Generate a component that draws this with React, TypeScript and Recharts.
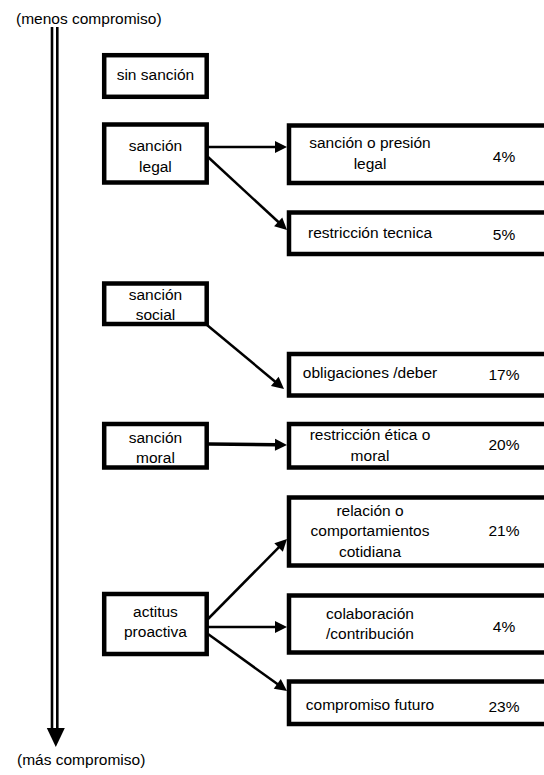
import {
  ReferenceArea,
  ReferenceDot,
  ReferenceLine,
  Scatter,
  ScatterChart,
  XAxis,
  YAxis,
} from "recharts";

// Diagram content
const SANCTIONS = [
  "sin sanción",
  "sanción\nlegal",
  "sanción\nsocial",
  "sanción\nmoral",
  "actitus\nproactiva",
];
const OUTCOMES = [
  "sanción o presión\nlegal",
  "restricción tecnica",
  "obligaciones /deber",
  "restricción ética o\nmoral",
  "relación o\ncomportamientos\ncotidiana",
  "colaboración\n/contribución",
  "compromiso futuro",
];
const SHARES = [4, 5, 17, 20, 21, 4, 23];
// which sanction each outcome comes from (index into SANCTIONS)
const SOURCES = [1, 1, 2, 3, 4, 4, 4];
const TOP_LABEL = "(menos compromiso)";
const BOTTOM_LABEL = "(más compromiso)";

// Layout, in page pixels (the hidden axes map 1:1 onto the svg)
const W = 544;
const H = 775;
const LEFT_X = [104.2, 206.7];
const LEFT_Y = [
  [55.2, 96.8],
  [124.5, 182.5],
  [283.5, 324],
  [424, 467.5],
  [594, 654],
];
const LEFT_TEXT_Y = [75, 156, 304.5, 447.5, 621.5];
const RIGHT_X = [289, 552];
const RIGHT_Y = [
  [125.5, 183],
  [212.5, 254],
  [354, 395.5],
  [424, 467.5],
  [497.5, 565.5],
  [595.5, 652.5],
  [681.5, 724],
];
const RIGHT_TEXT_Y = [153, 233, 373, 445, 531, 623.5, 705];
const PCT_Y = [157, 235, 375, 445, 531, 627, 707];
const LABEL_X = 370;
const PCT_X = 504;
// arrow [startX, startY, endX, endY] per outcome
const ARROWS = [
  [208, 147, 287, 147],
  [208, 157, 287, 230],
  [207, 325, 284, 389],
  [208, 444, 287, 445],
  [208, 619, 287, 539],
  [208, 627, 287, 627],
  [208, 634, 287, 691],
];
const ARROW_W = [2.5, 2.5, 2.5, 3.5, 2.5, 2.5, 2.5];

const FONT = "'Liberation Sans', Arial, sans-serif";
const FS = 15.5;
const LH = 20.5;

function lines(text: string, cx: number, cy: number) {
  const parts = text.split("\n");
  return (
    <text
      x={cx}
      y={cy}
      textAnchor="middle"
      fontFamily={FONT}
      fontSize={FS}
      fill="#000"
    >
      {parts.map((t, i) => (
        <tspan key={i} x={cx} y={cy + (i - (parts.length - 1) / 2) * LH} dy="0.35em">
          {t}
        </tspan>
      ))}
    </text>
  );
}

const boxShape = (text: string, textX: number, textY: number) => (p: any) => {
  const { x, y, width, height } = p;
  return (
    <g>
      <rect x={x} y={y} width={width} height={height} fill="#fff" stroke="#000" strokeWidth={4.5} />
      {lines(text, textX, textY)}
    </g>
  );
};

const arrowShape = (w: number, hl = 12, hw = 6) => (p: any) => {
  const { x1, y1, x2, y2 } = p;
  const dx = x2 - x1;
  const dy = y2 - y1;
  const len = Math.hypot(dx, dy) || 1;
  const ux = dx / len;
  const uy = dy / len;
  const bx = x2 - ux * hl;
  const by = y2 - uy * hl;
  return (
    <g>
      <line x1={x1} y1={y1} x2={bx + ux} y2={by + uy} stroke="#000" strokeWidth={w} />
      <polygon
        points={`${x2},${y2} ${bx - uy * hw},${by + ux * hw} ${bx + uy * hw},${by - ux * hw}`}
        fill="#000"
      />
    </g>
  );
};

const headShape = (p: any) => {
  const { x1, y1, y2 } = p;
  return <polygon points={`${x1 - 9},${y1} ${x1 + 9},${y1} ${x1},${y2}`} fill="#000" />;
};

const textShape = (text: string) => (p: any) => (
  <text x={p.cx} y={p.cy} dy="0.35em" fontFamily={FONT} fontSize={FS} fill="#000">
    {text}
  </text>
);

const pctShape = (p: any) => (
  <text
    x={p.cx}
    y={p.cy}
    dy="0.35em"
    textAnchor="middle"
    fontFamily={FONT}
    fontSize={FS}
    fill="#000"
  >
    {p.payload.v}%
  </text>
);

export default function App() {
  const pctData = SHARES.map((v, i) => ({ x: PCT_X, y: PCT_Y[i], v }));

  return (
    <div style={{ position: "absolute", left: 0, top: 0, background: "#fff" }}>
      <ScatterChart width={W} height={H} margin={{ top: 0, right: 0, bottom: 0, left: 0 }}>
        <XAxis dataKey="x" type="number" domain={[0, W]} hide />
        <YAxis dataKey="y" type="number" domain={[0, H]} reversed hide />

        {/* commitment axis: double line with a head */}
        <ReferenceLine
          segment={[{ x: 52, y: 27 }, { x: 52, y: 730 }]}
          stroke="#000"
          strokeWidth={2.6}
        />
        <ReferenceLine
          segment={[{ x: 57.3, y: 27 }, { x: 57.3, y: 730 }]}
          stroke="#000"
          strokeWidth={2.6}
        />
        <ReferenceLine
          segment={[{ x: 55.8, y: 728 }, { x: 55.8, y: 747 }]}
          shape={headShape}
        />
        <ReferenceDot x={16} y={19} r={0} shape={textShape(TOP_LABEL)} />
        <ReferenceDot x={17} y={760} r={0} shape={textShape(BOTTOM_LABEL)} />

        {OUTCOMES.map((_, i) => {
          const a = ARROWS[i];
          return (
            <ReferenceLine
              key={`a${i}-${SOURCES[i]}`}
              segment={[{ x: a[0], y: a[1] }, { x: a[2], y: a[3] }]}
              shape={arrowShape(ARROW_W[i])}
            />
          );
        })}

        {SANCTIONS.map((s, i) => (
          <ReferenceArea
            key={`s${i}`}
            x1={LEFT_X[0]}
            x2={LEFT_X[1]}
            y1={LEFT_Y[i][0]}
            y2={LEFT_Y[i][1]}
            ifOverflow="visible"
            shape={boxShape(s, (LEFT_X[0] + LEFT_X[1]) / 2, LEFT_TEXT_Y[i])}
          />
        ))}
        {OUTCOMES.map((o, i) => (
          <ReferenceArea
            key={`o${i}`}
            x1={RIGHT_X[0]}
            x2={RIGHT_X[1]}
            y1={RIGHT_Y[i][0]}
            y2={RIGHT_Y[i][1]}
            ifOverflow="visible"
            shape={boxShape(o, LABEL_X, RIGHT_TEXT_Y[i])}
          />
        ))}

        <Scatter data={pctData} shape={pctShape} isAnimationActive={false} />
      </ScatterChart>
    </div>
  );
}
